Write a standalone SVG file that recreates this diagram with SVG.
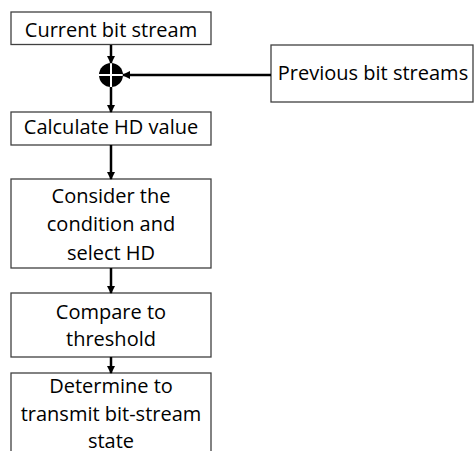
<svg xmlns="http://www.w3.org/2000/svg" width="474" height="451" viewBox="0 0 474 451">
  <defs>
    <marker id="arrow" markerWidth="10" markerHeight="10" refX="7" refY="5" orient="auto" markerUnits="userSpaceOnUse">
      <path d="M0,1 L8,5 L0,9 Z" fill="#000"/>
    </marker>
    <style>
      .box { fill: #fff; stroke: #404040; stroke-width: 1.3; }
      .label { font-family: "Open Sans", "Liberation Sans", sans-serif; font-size: 20px; fill: #000; text-anchor: middle; }
      .link { stroke: #000; stroke-width: 2.5; fill: none; marker-end: url(#arrow); }
    </style>
  </defs>
  <rect width="474" height="451" fill="#fff"/>

  <g id="current">
    <rect class="box" x="11" y="12" width="200" height="32.5"/>
    <text class="label" x="111" y="36.5">Current bit stream</text>
  </g>

  <g id="previous">
    <rect class="box" x="271" y="45" width="202" height="57"/>
    <text class="label" x="373" y="80">Previous bit streams</text>
  </g>

  <g id="xor">
    <circle cx="111" cy="75" r="12" fill="#000"/>
    <path d="M99,75 H123 M111,63 V87" stroke="#fff" stroke-width="2"/>
  </g>

  <g id="calc">
    <rect class="box" x="11" y="112" width="200" height="33"/>
    <text class="label" x="111" y="133.5">Calculate HD value</text>
  </g>

  <g id="select">
    <rect class="box" x="11" y="179" width="200" height="89"/>
    <text class="label" x="111" y="202.5">Consider the</text>
    <text class="label" x="111" y="230.5">condition and</text>
    <text class="label" x="111" y="259.5">select HD</text>
  </g>

  <g id="compare">
    <rect class="box" x="11" y="293" width="200" height="64"/>
    <text class="label" x="111" y="319">Compare to</text>
    <text class="label" x="111" y="346">threshold</text>
  </g>

  <g id="determine">
    <rect class="box" x="11" y="373" width="200" height="90"/>
    <text class="label" x="111" y="393">Determine to</text>
    <text class="label" x="111" y="421">transmit bit-stream</text>
    <text class="label" x="111" y="447.5">state</text>
  </g>

  <g id="connectors">
    <line class="link" x1="111" y1="45" x2="111" y2="63"/>
    <line class="link" x1="271" y1="75" x2="123" y2="75"/>
    <line class="link" x1="111" y1="87" x2="111" y2="112"/>
    <line class="link" x1="111" y1="145" x2="111" y2="179"/>
    <line class="link" x1="111" y1="268" x2="111" y2="293"/>
    <line class="link" x1="111" y1="357" x2="111" y2="373"/>
  </g>
</svg>
